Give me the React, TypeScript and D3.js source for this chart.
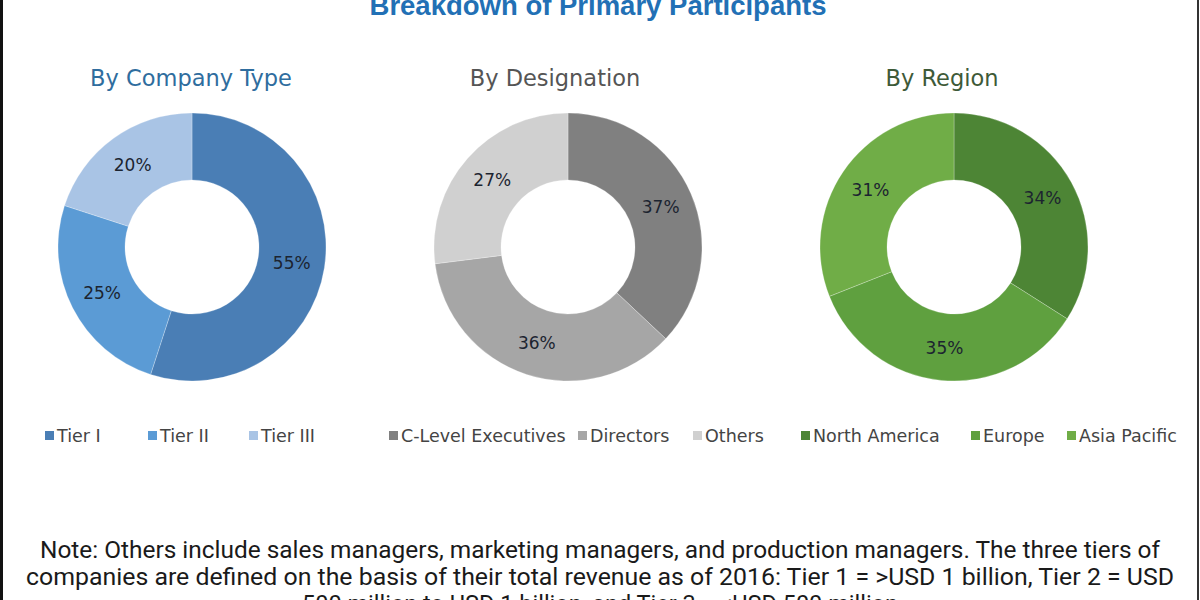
import React from "react";
import * as d3 from "d3";

const title = "Breakdown of Primary Participants";

const companyLabels = ["Tier I", "Tier II", "Tier III"];
const companyValues = [55, 25, 20];
const companyColors = ["#4a7eb5", "#5b9bd5", "#a9c4e5"];

const designationLabels = ["C-Level Executives", "Directors", "Others"];
const designationValues = [37, 36, 27];
const designationColors = ["#808080", "#a6a6a6", "#d0d0d0"];

const regionLabels = ["North America", "Europe", "Asia Pacific"];
const regionValues = [34, 35, 31];
const regionColors = ["#4d8535", "#5fa03f", "#70ad47"];

const noteLines = [
  "Note: Others include sales managers, marketing managers, and production managers. The three tiers of",
  "companies are defined on the basis of their total revenue as of 2016: Tier 1 = >USD 1 billion, Tier 2 = USD",
  "500 million to USD 1 billion, and Tier 3 = <USD 500 million",
];

type Panel = {
  subtitle: string;
  subColor: string;
  subX: number;
  cx: number;
  labels: string[];
  values: number[];
  colors: string[];
  legendX: number[];
};

const panels: Panel[] = [
  { subtitle: "By Company Type", subColor: "#2f6d9e", subX: 191, cx: 192, labels: companyLabels, values: companyValues, colors: companyColors, legendX: [45, 148, 249] },
  { subtitle: "By Designation", subColor: "#555555", subX: 555, cx: 568, labels: designationLabels, values: designationValues, colors: designationColors, legendX: [389, 578, 693] },
  { subtitle: "By Region", subColor: "#3e5a38", subX: 942, cx: 954, labels: regionLabels, values: regionValues, colors: regionColors, legendX: [801, 971, 1067] },
];

const CY = 247;
const R_OUT = 134;
const R_IN = 67;

function Donut({ p }: { p: Panel }) {
  const pie = d3.pie<number>().sort(null).value((d) => d);
  const arcs = pie(p.values);
  const arc = d3.arc<d3.PieArcDatum<number>>().innerRadius(R_IN).outerRadius(R_OUT);
  const labelArc = d3.arc<d3.PieArcDatum<number>>().innerRadius(101).outerRadius(101);
  return (
    <g>
      <text x={p.subX} y={86} textAnchor="middle" fontFamily="'DejaVu Sans', sans-serif" fontSize={22.5} fill={p.subColor}>
        {p.subtitle}
      </text>
      <g transform={`translate(${p.cx},${CY})`}>
        {arcs.map((a, i) => (
          <path key={i} d={arc(a) || ""} fill={p.colors[i]} stroke="#ffffff" strokeOpacity={0.25} strokeWidth={1} />
        ))}
        {arcs.map((a, i) => {
          const [x, y] = labelArc.centroid(a);
          return (
            <text key={"l" + i} x={x} y={y} dy="0.35em" textAnchor="middle" fontFamily="'DejaVu Sans', sans-serif" fontSize={17} fill="#1c2430">
              {p.values[i]}%
            </text>
          );
        })}
      </g>
      {p.labels.map((l, i) => (
        <g key={"lg" + i}>
          <rect x={p.legendX[i]} y={431} width={9} height={9} fill={p.colors[i]} />
          <text x={p.legendX[i] + 12} y={442} fontFamily="'DejaVu Sans', sans-serif" fontSize={17.5} fill="#444444">
            {l}
          </text>
        </g>
      ))}
    </g>
  );
}

export default function App() {
  return (
    <svg width={1200} height={600} style={{ position: "fixed", left: 0, top: 0, background: "#ffffff" }}>
      <rect x={0} y={0} width={1200} height={600} fill="#ffffff" />
      <line x1={1.5} y1={0} x2={1.5} y2={600} stroke="#111" strokeWidth={3} />
      <line x1={1198} y1={0} x2={1198} y2={600} stroke="#333" strokeWidth={2} />
      <text x={598} y={15} textAnchor="middle" fontFamily="'Liberation Sans', Arial, sans-serif" fontWeight="bold" fontSize={27.5} fill="#2270b5">
        {title}
      </text>
      {panels.map((p, i) => (
        <Donut key={i} p={p} />
      ))}
      {noteLines.map((t, i) => (
        <text
          key={i}
          x={600}
          y={558 + i * 27}
          textAnchor="middle"
          fontFamily="Roboto, sans-serif"
          fontSize={23.5}
          fill="#1a1a1a"
          {...(i === 0 ? { textLength: 1120, lengthAdjust: "spacingAndGlyphs" } : {})}
          {...(i === 1 ? { textLength: 1148, lengthAdjust: "spacingAndGlyphs" } : {})}
        >
          {t}
        </text>
      ))}
    </svg>
  );
}
